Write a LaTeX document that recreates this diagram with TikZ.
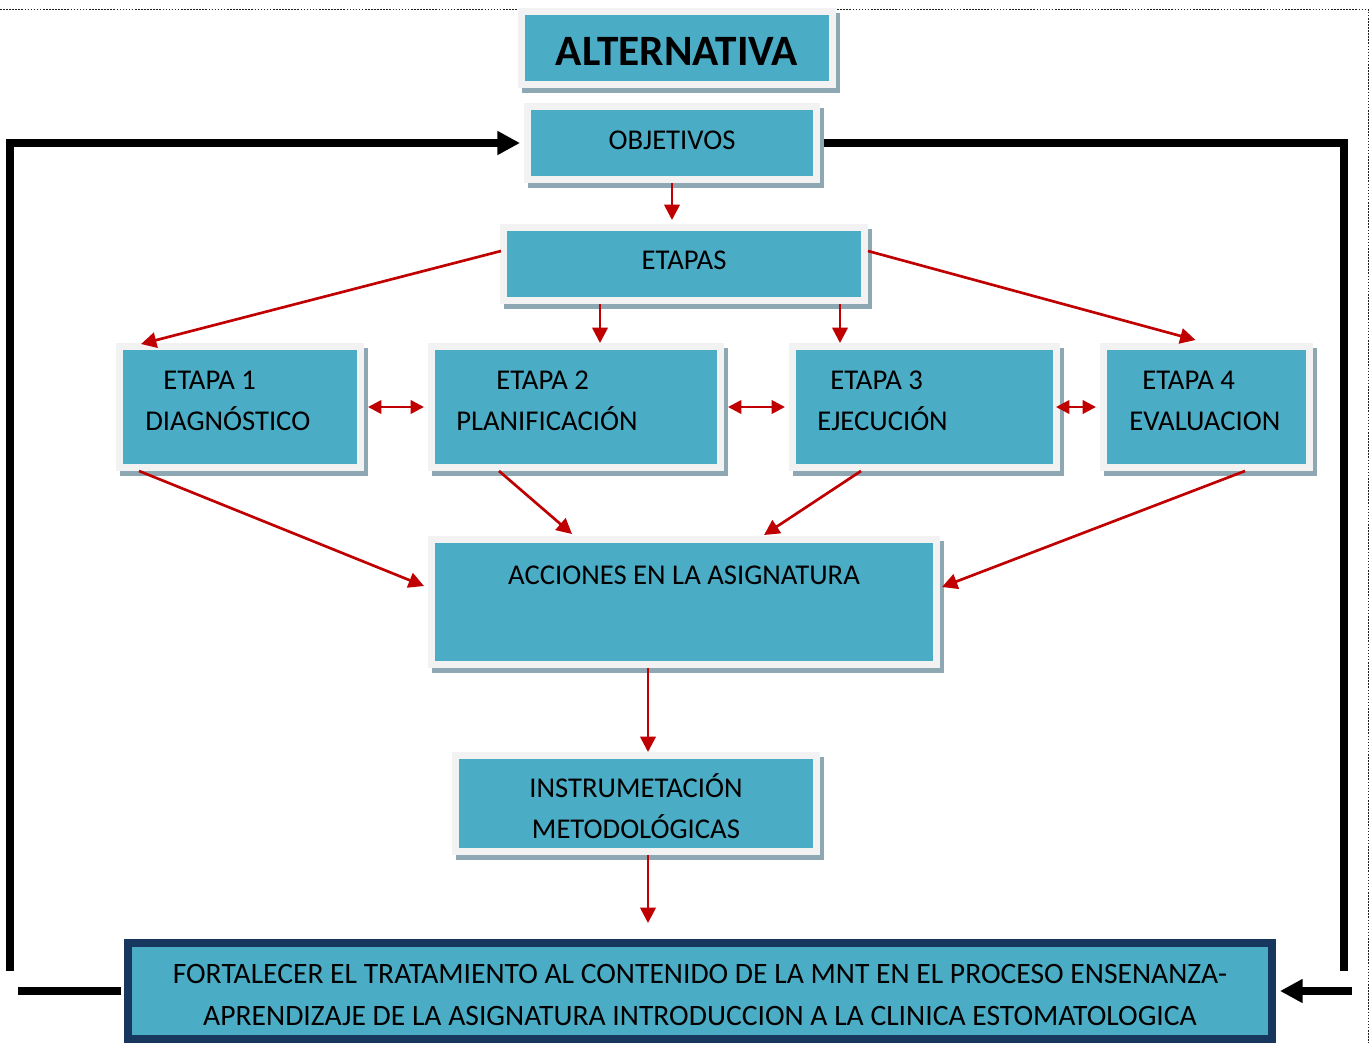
\documentclass[tikz,border=0pt]{standalone}
\usepackage{fontspec}
\setmainfont{Carlito}
\usetikzlibrary{arrows.meta,calc,fit}
\definecolor{teal1}{HTML}{4BACC6}
\definecolor{frame1}{HTML}{F2F2F2}
\definecolor{shade1}{HTML}{8EA8B3}
\definecolor{navy1}{HTML}{17375E}
\definecolor{red1}{HTML}{C00000}
\definecolor{dot1}{HTML}{202020}
\pgfdeclarelayer{bg}
\pgfsetlayers{bg,main}
\tikzset{
 box/.style={draw=frame1, fill=teal1, line width=5.6pt, inner sep=0pt, rectangle,
   preaction={fill=shade1, draw=shade1, transform canvas={xshift=3pt,yshift=-3.75pt}}},
 lbl/.style={font=\fontsize{21.5}{26}\selectfont, inner sep=0pt, anchor=base west},
 lblc/.style={lbl, anchor=base},
 ra/.style={draw=red1, line width=2pt, -{Triangle[length=11.5pt,width=11.5pt]}},
 dbl/.style={draw=red1, line width=2pt, {Triangle[length=10pt,width=10pt]}-{Triangle[length=10pt,width=10pt]}, shorten <=3pt, shorten >=3pt},
 blk/.style={draw=black, line width=6pt, line join=miter},
 blkarrow/.style={blk, -{Triangle[length=17pt,width=17pt]}},
 dotline/.style={draw=dot1, line width=1.2pt, dash pattern=on 1.2pt off 1.1pt},
}
\begin{document}
\begin{tikzpicture}[x=0.75pt,y=-0.75pt]
\useasboundingbox (0,0) rectangle (1371,1043);
% boxes
\node[box, fit={(521.75,11.75) (832.25,84.25)}] (alt) {};
\node[box, fit={(527.75,106.75) (816.25,179.25)}] (obj) {};
\node[box, fit={(503.75,227.75) (864.25,300.25)}] (etapas) {};
\node[box, fit={(119.75,346.75) (360.25,467.25)}] (e1) {};
\node[box, fit={(431.75,346.75) (720.25,467.25)}] (e2) {};
\node[box, fit={(792.75,346.75) (1056.25,467.25)}] (e3) {};
\node[box, fit={(1103.75,346.75) (1309.25,467.25)}] (e4) {};
\node[box, fit={(431.75,539.75) (936.25,664.25)}] (acc) {};
\node[box, fit={(455.75,755.75) (816.25,851.25)}] (ins) {};
\node[draw=navy1, fill=teal1, line width=6pt, inner sep=0pt, rectangle, fit={(128,943) (1272,1039)}] (bot) {};
% texts
\node[lblc, font=\fontsize{32.5}{36}\selectfont\bfseries] (altt) at (677,65) {ALTERNATIVA};
\node[lblc] (objt) at (672,149) {OBJETIVOS};
\node[lblc] (etat) at (684,269) {ETAPAS};
\node[lbl] (e1a) at (163,389) {ETAPA 1};
\node[lbl] (e1b) at (145,430) {DIAGNÓSTICO};
\node[lbl] (e2a) at (496,389) {ETAPA 2};
\node[lbl] (e2b) at (456,430) {PLANIFICACIÓN};
\node[lbl] (e3a) at (830,389) {ETAPA 3};
\node[lbl] (e3b) at (817,430) {EJECUCIÓN};
\node[lbl] (e4a) at (1142,389) {ETAPA 4};
\node[lbl] (e4b) at (1129,430) {EVALUACION};
\node[lblc] (acct) at (684,584) {ACCIONES EN LA ASIGNATURA};
\node[lblc] (insa) at (636,797) {INSTRUMETACIÓN};
\node[lblc] (insb) at (636,838) {METODOLÓGICAS};
\node[lblc, font=\fontsize{22.2}{26}\selectfont] (bota) at (700,983) {FORTALECER EL TRATAMIENTO AL CONTENIDO DE LA MNT EN EL PROCESO ENSENANZA-};
\node[lblc, font=\fontsize{22.2}{26}\selectfont] (botb) at (700,1025) {APRENDIZAJE DE LA ASIGNATURA INTRODUCCION A LA CLINICA ESTOMATOLOGICA};
% background: dotted frame and black feedback lines
\coordinate (L1) at (10,971);
\coordinate (R1) at (1344,971);
\coordinate (BL) at (18,991);
\coordinate (BR) at (1352,991);
\coordinate (D1) at (0,9.5);
\coordinate (D2) at (1368.5,9.5);
\coordinate (D3) at (1368.5,1043);
\begin{pgfonlayer}{bg}
\draw[dotline] (D1) -- (D2) -- (D3);
\draw[blkarrow] (L1) |- ([xshift=-3pt]obj.west);
\draw[blk] ([xshift=2pt]obj.east) -| (R1);
\end{pgfonlayer}
\draw[blk] (BL) -- ([xshift=-2pt]bot.west);
\draw[blkarrow] (BR) -- ([xshift=3pt]bot.east);
% red arrows
\draw[ra, shorten >=3pt] (obj.south) -- (obj.south |- etapas.north);
\draw[ra] ($(etapas.west)+(1,-13)$) -- ($(e1.north west)+(25,1)$);
\coordinate (a2) at ($(e2.north)+(24,0)$);
\coordinate (a3) at ($(e3.north)+(-84.5,0)$);
\draw[ra] (etapas.south -| a2) -- (a2);
\draw[ra] (etapas.south -| a3) -- (a3);
\draw[ra] ($(etapas.east)+(0,-13)$) -- ($(e4.north)+(-11,-3)$);
\draw[dbl] (e1.east) -- (e2.west);
\draw[dbl] (e2.east) -- (e3.west);
\draw[dbl, shorten <=-3pt] (e3.east) -- (e4.west);
\draw[ra] ($(e1.south west)+(23,0)$) -- ($(acc.west)+(-4,-16)$);
\draw[ra] ($(e2.south west)+(71,0)$) -- ($(acc.north west)+(144,-2)$);
\draw[ra] ($(e3.south west)+(72,0)$) -- ($(acc.north west)+(336,-1)$);
\draw[ra] ($(e4.south west)+(145,0)$) -- ($(acc.east)+(2,-15)$);
\coordinate (a11) at ($(ins.north)+(12,0)$);
\draw[ra] (acc.south -| a11) -- (a11);
\coordinate (F) at (648,923);
\draw[ra] (ins.south -| F) -- (F);
\end{tikzpicture}
\end{document}
